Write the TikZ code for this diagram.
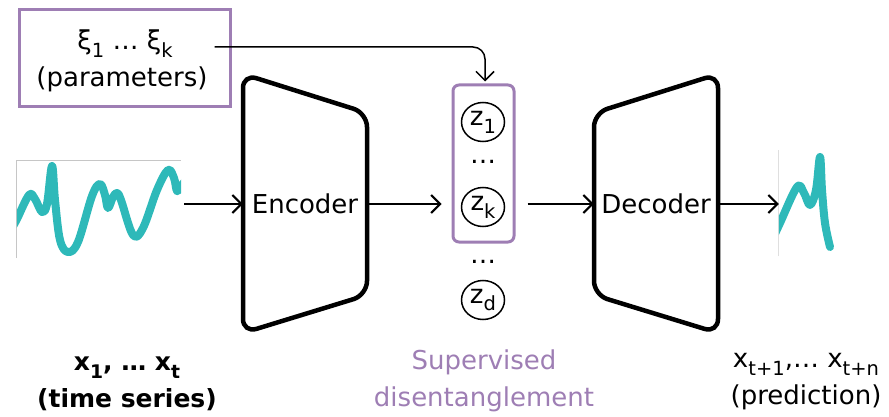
\documentclass[tikz,border=0pt]{standalone}
\usepackage{fontspec}
\setmainfont{DejaVu Sans}
\usepackage{tikz}
\usetikzlibrary{arrows.meta,shapes.geometric,positioning}
\definecolor{lilac}{RGB}{158,126,180}
\definecolor{wave}{RGB}{46,185,185}
\newcommand{\lo}[1]{\raisebox{-0.3em}{\scalebox{0.75}{#1}}}

\begin{document}
\begin{tikzpicture}[
    x=1pt, y=-1pt,
    mytext/.style={font=\fontsize{26}{37}\selectfont, inner sep=0pt, align=center},
    mycoder/.style={mytext, minimum width=124pt, minimum height=180pt},
    mybox/.style={draw=lilac, line width=3pt},
    myvar/.style={draw, ellipse, line width=1.5pt, minimum width=43pt, minimum height=39pt, inner sep=0pt, font=\fontsize{26}{26}\selectfont},
    myedge/.style={-{Straight Barb[length=9pt,width=18pt]}, line width=2pt},
    mywave/.style={wave, line width=8pt, line cap=round, line join=round}
]
\useasboundingbox (0,0) rectangle (889,417);

% encoder / decoder
\node[mycoder] (enc) at (305,204) {Encoder};
\node[mycoder] (dec) at (656,204) {Decoder};
\draw[line width=4.5pt, rounded corners=14pt] (243,74) -- (367,113) -- (367,295) -- (243,333) -- cycle;
\draw[line width=4.5pt, rounded corners=14pt] (594,113) -- (718,74) -- (718,333) -- (594,295) -- cycle;

% latent variables
\node[mybox, rounded corners=6pt, minimum width=61pt, minimum height=157pt] (zbox) at (483.5,163.5) {};
\node[myvar] (z1) at (483,122) {z\lo{1}};
\node[mytext] (dotsA) at (483,162) {…};
\node[myvar] (zk) at (483,207) {z\lo{k}};
\node[mytext] (dotsB) at (483,262) {…};
\node[myvar] (zd) at (483,300) {z\lo{d}};

% parameters
\node[mybox, minimum width=211pt, minimum height=97pt] (par) at (124.5,58.5) {};
\node[mytext] (xi) at (125,44) {ξ\lo{1} … ξ\lo{k}};
\node[mytext] (parlab) at (122,79) {(parameters)};
\draw[myedge, line width=1.5pt, rounded corners=12pt] ([xshift=-17pt,yshift=-3pt]par.east |- xi.east) -| ([xshift=1.5pt,yshift=2pt]zbox.north);

% input series
\node[minimum width=164pt, minimum height=97pt, inner sep=0pt] (ts) at (99,209.5) {};
\draw[gray!45, line width=1pt] (ts.south west) -- (ts.north west) -- (ts.north east);
\begin{scope}
  \clip (ts.south west) rectangle (ts.north east);
  \draw[mywave] plot[smooth, tension=0.6] coordinates {(12,228) (17,219) (29,195) (35,199) (42,212) (47,204) (52,166) (55,200) (60,240) (68,252) (78,242) (92,196) (100,184) (105,195) (108,208) (113,197) (117,193) (121,200) (133,235) (143,228) (157,190) (168,170) (174,178) (177,191) (181,186) (186,180)};
\end{scope}

% predicted series
\node[minimum width=56pt, minimum height=106pt, inner sep=0pt] (pred) at (807,203) {};
\draw[gray!25, line width=1pt] (pred.south west) -- (pred.north west);
\begin{scope}
  \clip (pred.south west) rectangle (pred.north east);
  \draw[mywave] plot[smooth, tension=0.6] coordinates {(774,236) (780,223) (797,187) (804,193) (810,205) (816,190) (820,157) (822,190) (825,223) (830,247)};
\end{scope}

% flow
\draw[myedge] ([xshift=3pt]ts.east |- enc.west) -- (enc.west);
\draw[myedge, shorten >=10pt] (enc.east) -- (enc.east -| zbox.west);
\draw[myedge, shorten <=12pt] (zbox.east |- dec.west) -- (dec.west);
\draw[myedge] (dec.east) -- (pred.west |- dec.east);

% captions
\node[mytext, font={\fontsize{25}{37}\selectfont\bfseries}] (tslab) at (127,384) {x\lo{1}, … x\lo{t}\\(time series)};
\node[mytext, text=lilac] (sdlab) at (484,381) {Supervised\\disentanglement};
\node[mytext] (predlab) at (806,382) {x\lo{t+1},… x\lo{t+n}\\(prediction)};
\end{tikzpicture}
\end{document}
